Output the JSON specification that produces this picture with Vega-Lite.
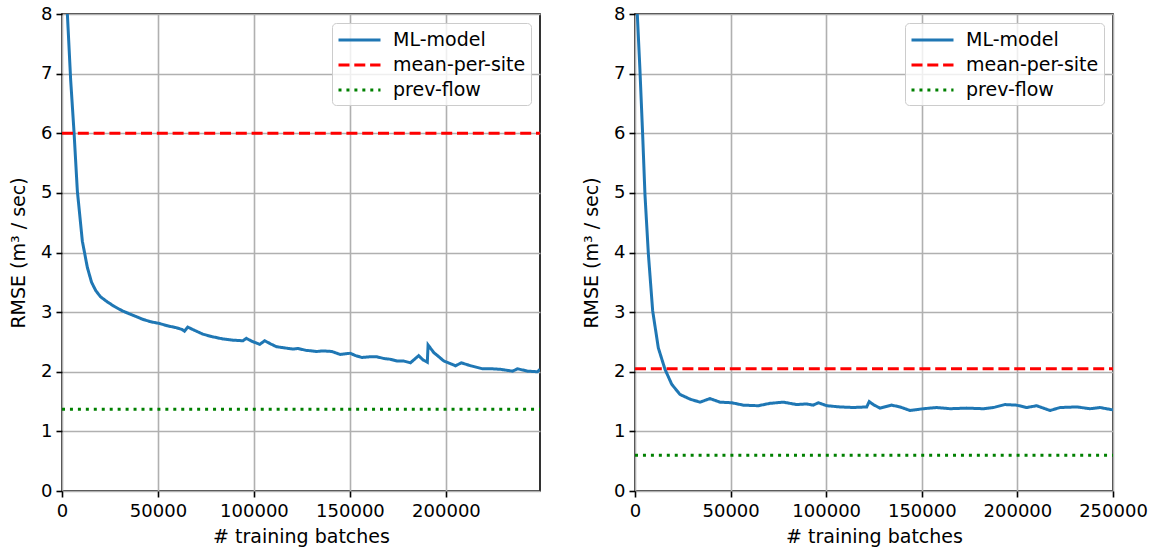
{
  "$schema": "https://vega.github.io/schema/vega-lite/v6.json",
  "background": "white",
  "padding": {"left": 8, "top": 4, "right": 5, "bottom": 2},
  "spacing": 40,
  "datasets": {
    "rmse": [
      {"p": "L", "s": "ML-model", "b": 1500, "r": 9.6},
      {"p": "L", "s": "ML-model", "b": 2800, "r": 8.0},
      {"p": "L", "s": "ML-model", "b": 4500, "r": 6.9},
      {"p": "L", "s": "ML-model", "b": 6300, "r": 6.0},
      {"p": "L", "s": "ML-model", "b": 8000, "r": 5.03},
      {"p": "L", "s": "ML-model", "b": 10600, "r": 4.19},
      {"p": "L", "s": "ML-model", "b": 13200, "r": 3.75},
      {"p": "L", "s": "ML-model", "b": 15400, "r": 3.5},
      {"p": "L", "s": "ML-model", "b": 17600, "r": 3.36},
      {"p": "L", "s": "ML-model", "b": 20000, "r": 3.26},
      {"p": "L", "s": "ML-model", "b": 22800, "r": 3.19},
      {"p": "L", "s": "ML-model", "b": 27000, "r": 3.1},
      {"p": "L", "s": "ML-model", "b": 31500, "r": 3.02},
      {"p": "L", "s": "ML-model", "b": 36000, "r": 2.96},
      {"p": "L", "s": "ML-model", "b": 42000, "r": 2.88},
      {"p": "L", "s": "ML-model", "b": 46000, "r": 2.84},
      {"p": "L", "s": "ML-model", "b": 50700, "r": 2.81},
      {"p": "L", "s": "ML-model", "b": 55000, "r": 2.77},
      {"p": "L", "s": "ML-model", "b": 59400, "r": 2.74},
      {"p": "L", "s": "ML-model", "b": 62500, "r": 2.71},
      {"p": "L", "s": "ML-model", "b": 63800, "r": 2.68},
      {"p": "L", "s": "ML-model", "b": 65500, "r": 2.75},
      {"p": "L", "s": "ML-model", "b": 68000, "r": 2.71},
      {"p": "L", "s": "ML-model", "b": 73400, "r": 2.63},
      {"p": "L", "s": "ML-model", "b": 78000, "r": 2.59},
      {"p": "L", "s": "ML-model", "b": 83800, "r": 2.55},
      {"p": "L", "s": "ML-model", "b": 89000, "r": 2.53},
      {"p": "L", "s": "ML-model", "b": 94300, "r": 2.52},
      {"p": "L", "s": "ML-model", "b": 96000, "r": 2.56},
      {"p": "L", "s": "ML-model", "b": 99000, "r": 2.51},
      {"p": "L", "s": "ML-model", "b": 103000, "r": 2.46},
      {"p": "L", "s": "ML-model", "b": 105600, "r": 2.52},
      {"p": "L", "s": "ML-model", "b": 108500, "r": 2.47},
      {"p": "L", "s": "ML-model", "b": 111700, "r": 2.42},
      {"p": "L", "s": "ML-model", "b": 116000, "r": 2.40},
      {"p": "L", "s": "ML-model", "b": 120400, "r": 2.38},
      {"p": "L", "s": "ML-model", "b": 123000, "r": 2.39},
      {"p": "L", "s": "ML-model", "b": 127000, "r": 2.36},
      {"p": "L", "s": "ML-model", "b": 132700, "r": 2.34},
      {"p": "L", "s": "ML-model", "b": 136000, "r": 2.35},
      {"p": "L", "s": "ML-model", "b": 140500, "r": 2.34},
      {"p": "L", "s": "ML-model", "b": 144900, "r": 2.29},
      {"p": "L", "s": "ML-model", "b": 150100, "r": 2.31},
      {"p": "L", "s": "ML-model", "b": 153000, "r": 2.27},
      {"p": "L", "s": "ML-model", "b": 156200, "r": 2.24},
      {"p": "L", "s": "ML-model", "b": 160000, "r": 2.25},
      {"p": "L", "s": "ML-model", "b": 164100, "r": 2.25},
      {"p": "L", "s": "ML-model", "b": 168000, "r": 2.22},
      {"p": "L", "s": "ML-model", "b": 171000, "r": 2.21},
      {"p": "L", "s": "ML-model", "b": 174500, "r": 2.18},
      {"p": "L", "s": "ML-model", "b": 178000, "r": 2.18},
      {"p": "L", "s": "ML-model", "b": 181500, "r": 2.15},
      {"p": "L", "s": "ML-model", "b": 185800, "r": 2.27},
      {"p": "L", "s": "ML-model", "b": 188000, "r": 2.20},
      {"p": "L", "s": "ML-model", "b": 190300, "r": 2.16},
      {"p": "L", "s": "ML-model", "b": 190700, "r": 2.45},
      {"p": "L", "s": "ML-model", "b": 193700, "r": 2.32},
      {"p": "L", "s": "ML-model", "b": 196000, "r": 2.26},
      {"p": "L", "s": "ML-model", "b": 198900, "r": 2.18},
      {"p": "L", "s": "ML-model", "b": 202000, "r": 2.14},
      {"p": "L", "s": "ML-model", "b": 205000, "r": 2.10},
      {"p": "L", "s": "ML-model", "b": 208000, "r": 2.15},
      {"p": "L", "s": "ML-model", "b": 212900, "r": 2.10},
      {"p": "L", "s": "ML-model", "b": 219000, "r": 2.05},
      {"p": "L", "s": "ML-model", "b": 224000, "r": 2.05},
      {"p": "L", "s": "ML-model", "b": 228500, "r": 2.04},
      {"p": "L", "s": "ML-model", "b": 234700, "r": 2.01},
      {"p": "L", "s": "ML-model", "b": 237300, "r": 2.05},
      {"p": "L", "s": "ML-model", "b": 242500, "r": 2.01},
      {"p": "L", "s": "ML-model", "b": 247700, "r": 2.00},
      {"p": "L", "s": "ML-model", "b": 249000, "r": 2.04},
      {"p": "L", "s": "mean-per-site", "b": 0, "r": 6.0},
      {"p": "L", "s": "mean-per-site", "b": 249000, "r": 6.0},
      {"p": "L", "s": "prev-flow", "b": 0, "r": 1.37},
      {"p": "L", "s": "prev-flow", "b": 249000, "r": 1.37},
      {"p": "R", "s": "ML-model", "b": 0, "r": 8.8},
      {"p": "R", "s": "ML-model", "b": 1200, "r": 8.0},
      {"p": "R", "s": "ML-model", "b": 2600, "r": 7.05},
      {"p": "R", "s": "ML-model", "b": 4000, "r": 5.98},
      {"p": "R", "s": "ML-model", "b": 5200, "r": 4.98},
      {"p": "R", "s": "ML-model", "b": 7000, "r": 3.97},
      {"p": "R", "s": "ML-model", "b": 9250, "r": 3.02},
      {"p": "R", "s": "ML-model", "b": 12200, "r": 2.40},
      {"p": "R", "s": "ML-model", "b": 15700, "r": 2.04},
      {"p": "R", "s": "ML-model", "b": 19200, "r": 1.79},
      {"p": "R", "s": "ML-model", "b": 23500, "r": 1.62},
      {"p": "R", "s": "ML-model", "b": 28800, "r": 1.54},
      {"p": "R", "s": "ML-model", "b": 34000, "r": 1.49},
      {"p": "R", "s": "ML-model", "b": 39200, "r": 1.55},
      {"p": "R", "s": "ML-model", "b": 44500, "r": 1.49},
      {"p": "R", "s": "ML-model", "b": 50600, "r": 1.48},
      {"p": "R", "s": "ML-model", "b": 56700, "r": 1.44},
      {"p": "R", "s": "ML-model", "b": 64500, "r": 1.43},
      {"p": "R", "s": "ML-model", "b": 70600, "r": 1.47},
      {"p": "R", "s": "ML-model", "b": 77600, "r": 1.49},
      {"p": "R", "s": "ML-model", "b": 84500, "r": 1.45},
      {"p": "R", "s": "ML-model", "b": 89800, "r": 1.46},
      {"p": "R", "s": "ML-model", "b": 93200, "r": 1.44},
      {"p": "R", "s": "ML-model", "b": 95900, "r": 1.48},
      {"p": "R", "s": "ML-model", "b": 100300, "r": 1.43},
      {"p": "R", "s": "ML-model", "b": 107200, "r": 1.41},
      {"p": "R", "s": "ML-model", "b": 114200, "r": 1.40},
      {"p": "R", "s": "ML-model", "b": 121200, "r": 1.41},
      {"p": "R", "s": "ML-model", "b": 122500, "r": 1.50},
      {"p": "R", "s": "ML-model", "b": 124600, "r": 1.45},
      {"p": "R", "s": "ML-model", "b": 128100, "r": 1.39},
      {"p": "R", "s": "ML-model", "b": 134200, "r": 1.44},
      {"p": "R", "s": "ML-model", "b": 138600, "r": 1.41},
      {"p": "R", "s": "ML-model", "b": 143800, "r": 1.35},
      {"p": "R", "s": "ML-model", "b": 150800, "r": 1.38},
      {"p": "R", "s": "ML-model", "b": 157800, "r": 1.40},
      {"p": "R", "s": "ML-model", "b": 164800, "r": 1.38},
      {"p": "R", "s": "ML-model", "b": 173500, "r": 1.39},
      {"p": "R", "s": "ML-model", "b": 182200, "r": 1.38},
      {"p": "R", "s": "ML-model", "b": 187400, "r": 1.40},
      {"p": "R", "s": "ML-model", "b": 193500, "r": 1.45},
      {"p": "R", "s": "ML-model", "b": 199600, "r": 1.44},
      {"p": "R", "s": "ML-model", "b": 204900, "r": 1.40},
      {"p": "R", "s": "ML-model", "b": 210100, "r": 1.43},
      {"p": "R", "s": "ML-model", "b": 217100, "r": 1.35},
      {"p": "R", "s": "ML-model", "b": 222300, "r": 1.40},
      {"p": "R", "s": "ML-model", "b": 231000, "r": 1.41},
      {"p": "R", "s": "ML-model", "b": 238000, "r": 1.38},
      {"p": "R", "s": "ML-model", "b": 243200, "r": 1.40},
      {"p": "R", "s": "ML-model", "b": 250000, "r": 1.36},
      {"p": "R", "s": "mean-per-site", "b": 0, "r": 2.05},
      {"p": "R", "s": "mean-per-site", "b": 250000, "r": 2.05},
      {"p": "R", "s": "prev-flow", "b": 0, "r": 0.6},
      {"p": "R", "s": "prev-flow", "b": 250000, "r": 0.6}
    ]
  },
  "data": {"name": "rmse"},
  "hconcat": [
    {
      "width": 478,
      "height": 477,
      "transform": [{"filter": "datum.p === 'L'"}],
      "mark": {"type": "line", "clip": true, "strokeWidth": 3},
      "encoding": {
        "x": {"field": "b", "type": "quantitative", "title": "# training batches",
              "scale": {"domain": [0, 249000], "nice": false, "zero": false},
              "axis": {"values": [0, 50000, 100000, 150000, 200000], "format": "d"}},
        "y": {"field": "r", "type": "quantitative", "title": "RMSE (m³ / sec)",
              "scale": {"domain": [0, 8], "nice": false},
              "axis": {"values": [0, 1, 2, 3, 4, 5, 6, 7, 8]}},
        "color": {"field": "s", "type": "nominal", "title": null,
                  "scale": {"domain": ["ML-model", "mean-per-site", "prev-flow"], "range": ["#1f77b4", "#ff0000", "#008000"]}},
        "strokeDash": {"field": "s", "type": "nominal", "title": null,
                  "scale": {"domain": ["ML-model", "mean-per-site", "prev-flow"], "range": [[1, 0], [11, 4.8], [3, 4.95]]}}
      }
    },
    {
      "width": 478,
      "height": 477,
      "transform": [{"filter": "datum.p === 'R'"}],
      "mark": {"type": "line", "clip": true, "strokeWidth": 3},
      "encoding": {
        "x": {"field": "b", "type": "quantitative", "title": "# training batches",
              "scale": {"domain": [0, 250000], "nice": false, "zero": false},
              "axis": {"values": [0, 50000, 100000, 150000, 200000, 250000], "format": "d"}},
        "y": {"field": "r", "type": "quantitative", "title": "RMSE (m³ / sec)",
              "scale": {"domain": [0, 8], "nice": false},
              "axis": {"values": [0, 1, 2, 3, 4, 5, 6, 7, 8]}},
        "color": {"field": "s", "type": "nominal", "title": null,
                  "scale": {"domain": ["ML-model", "mean-per-site", "prev-flow"], "range": ["#1f77b4", "#ff0000", "#008000"]}},
        "strokeDash": {"field": "s", "type": "nominal", "title": null,
                  "scale": {"domain": ["ML-model", "mean-per-site", "prev-flow"], "range": [[1, 0], [11, 4.8], [3, 4.95]]}}
      }
    }
  ],
  "resolve": {
    "scale": {"x": "independent", "y": "independent", "color": "independent", "strokeDash": "independent"},
    "legend": {"color": "independent", "strokeDash": "independent"}
  },
  "config": {
    "font": "DejaVu Sans",
    "view": {"stroke": "black", "strokeWidth": 1.6},
    "axis": {
      "domain": false,
      "labelFont": "DejaVu Sans",
      "labelFontSize": 18,
      "labelColor": "black",
      "labelPadding": 4,
      "labelFlush": false,
      "labelOverlap": false,
      "titleFont": "DejaVu Sans",
      "titleFontSize": 19,
      "titleFontWeight": "normal",
      "titleColor": "black",
      "tickColor": "black",
      "tickSize": 6,
      "tickWidth": 1.6,
      "grid": true,
      "gridColor": "#b0b0b0",
      "gridWidth": 1.6
    },
    "axisX": {"labelPadding": 5, "titlePadding": 7},
    "axisY": {"titlePadding": 12},
    "legend": {
      "orient": "top-right",
      "offset": 9,
      "padding": 5,
      "rowPadding": 3,
      "labelFont": "DejaVu Sans",
      "labelFontSize": 19,
      "labelColor": "black",
      "labelOffset": 32,
      "symbolType": "M-1,0H3",
      "symbolSize": 441,
      "symbolStrokeWidth": 3,
      "strokeColor": "#cccccc",
      "fillColor": "rgba(255,255,255,0.8)",
      "cornerRadius": 4
    }
  }
}
